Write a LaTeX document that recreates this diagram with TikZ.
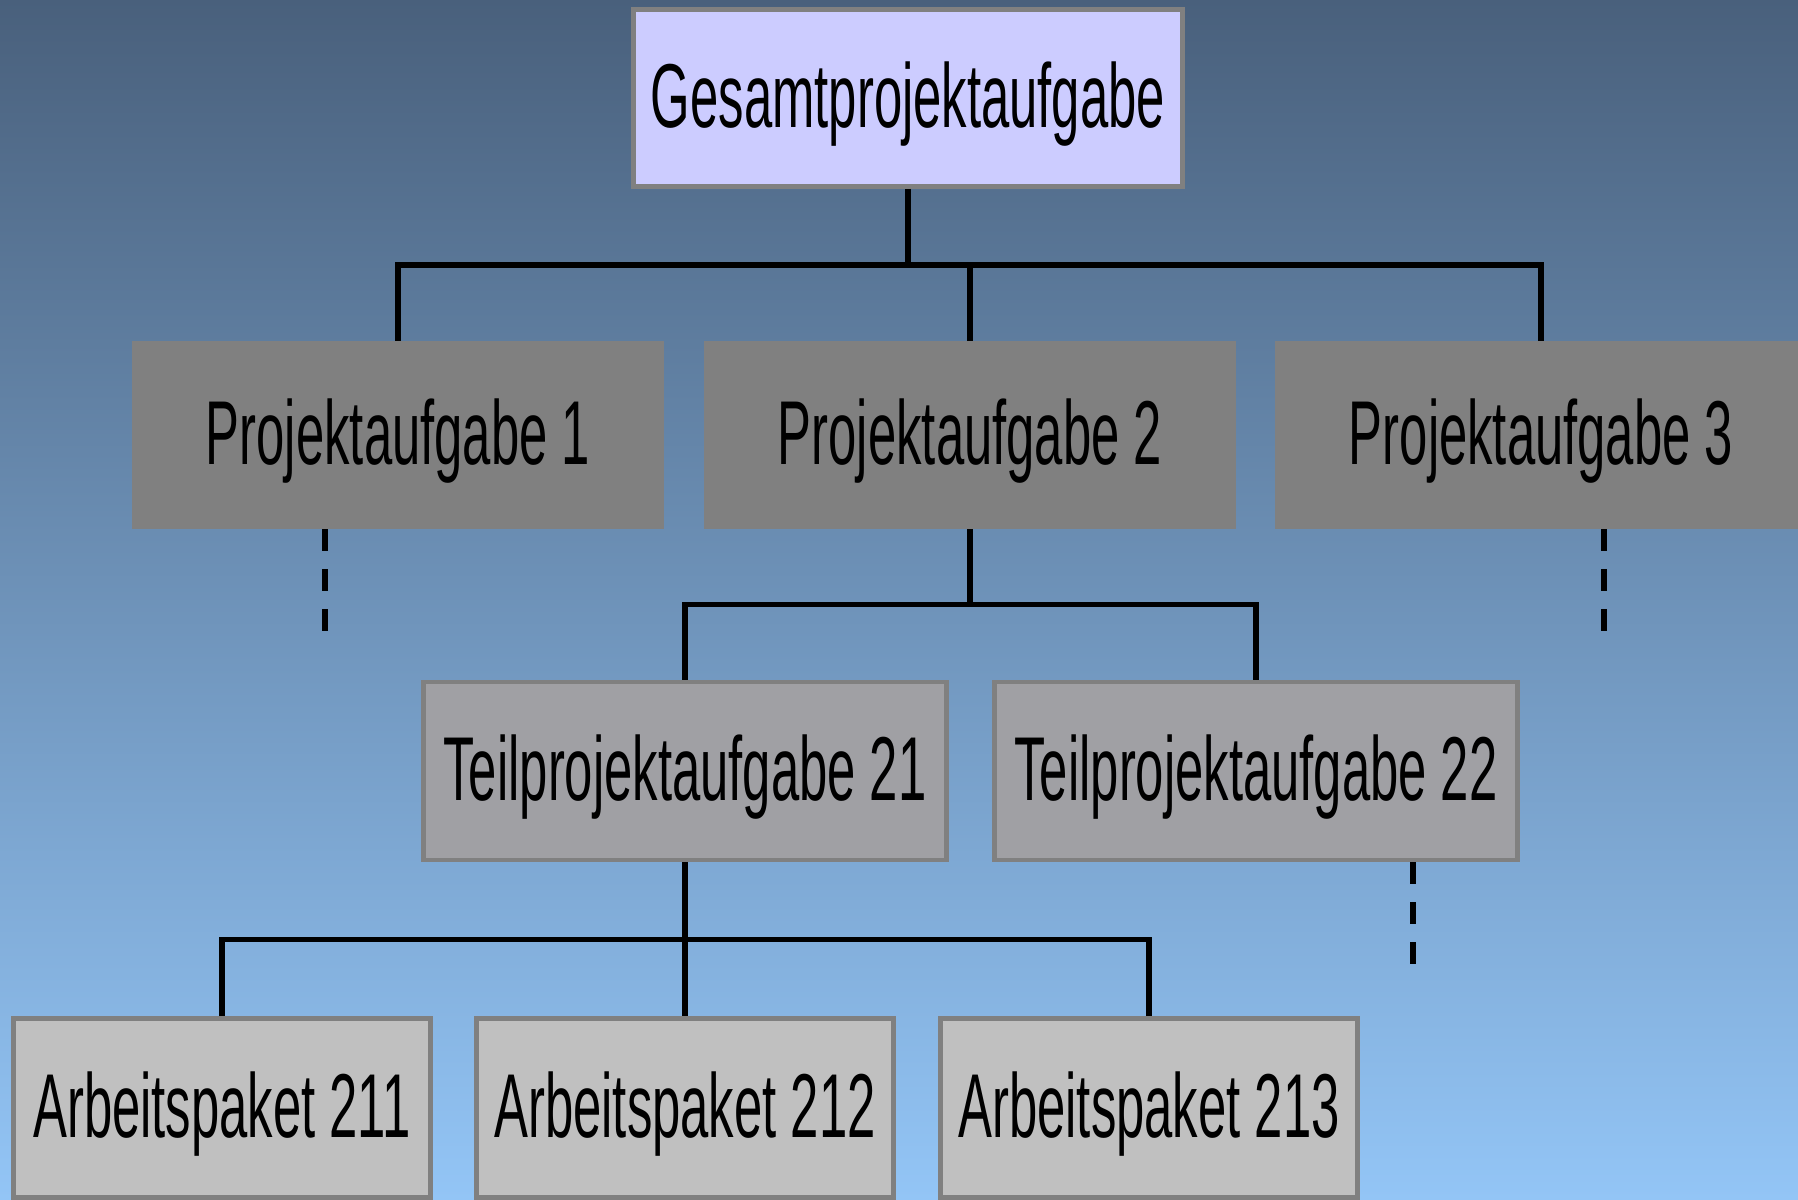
\documentclass[tikz,border=0pt]{standalone}
\usepackage{fontspec}
\setmainfont{Liberation Sans}[FakeStretch=0.56]
\usetikzlibrary{calc}
\definecolor{bgtop}{RGB}{73, 96, 124}
\definecolor{bgmid}{RGB}{114, 154, 200}
\definecolor{bgbot}{RGB}{147, 197, 246}
\definecolor{lila}{RGB}{204, 204, 255}
\definecolor{rahmen}{RGB}{128, 128, 128}
\definecolor{grauA}{RGB}{128, 128, 128}
\definecolor{grauB}{RGB}{160, 160, 164}
\definecolor{grauC}{RGB}{192, 192, 192}

\begin{document}
\begin{tikzpicture}[x=0.01cm, y=-0.01cm,
  box/.style={fill=#1, inner sep=0pt, text height=0.66cm, text depth=0.08cm,
    font=\fontsize{25.8}{30}\selectfont},
  rbox/.style={box=#1, draw=rahmen, line width=0.045cm},
  ln/.style={line width=0.055cm},
  dsh/.style={line width=0.065cm, dash pattern=on 0.22cm off 0.18cm},
]
  % Background
  \shade[top color=bgtop, middle color=bgmid, bottom color=bgbot] (0,0) rectangle (1798,1199);
  \useasboundingbox (0,0) rectangle (1798,1199);
  % Nodes
  \node[rbox=lila, minimum width=5.49cm, minimum height=1.77cm] (gpa) at (908,98) {Gesamtprojektaufgabe};
  \node[box=grauA, minimum width=5.31cm, minimum height=1.87cm] (p1) at (398,435) {Projektaufgabe 1};
  \node[box=grauA, minimum width=5.31cm, minimum height=1.87cm] (p2) at (970,435) {Projektaufgabe 2};
  \node[box=grauA, minimum width=5.31cm, minimum height=1.87cm] (p3) at (1541,435) {Projektaufgabe 3};
  \node[rbox=grauB, minimum width=5.23cm, minimum height=1.78cm] (t21) at (685,771) {Teilprojektaufgabe 21};
  \node[rbox=grauB, minimum width=5.23cm, minimum height=1.78cm] (t22) at (1256,771) {Teilprojektaufgabe 22};
  \node[rbox=grauC, minimum width=4.17cm, minimum height=1.79cm] (a211) at (222,1108) {Arbeitspaket 211};
  \node[rbox=grauC, minimum width=4.17cm, minimum height=1.79cm] (a212) at (685,1108) {Arbeitspaket 212};
  \node[rbox=grauC, minimum width=4.17cm, minimum height=1.79cm] (a213) at (1149,1108) {Arbeitspaket 213};
  % Bars
  \coordinate (bar1) at ($(gpa.south)!.5!(p1.north)$);
  \coordinate (bar2) at ($(p2.south)!.5!(t21.north)$);
  \coordinate (bar3) at ($(t21.south)!.5!(a211.north)$);
  % Edges
  \draw[ln] (gpa.south) -- (gpa.south |- bar1);
  \draw[ln] (p1.north) |- (bar1) -| (p3.north);
  \draw[ln] (p2.north) -- (p2.north |- bar1);
  \draw[ln] (p2.south) -- (p2.south |- bar2);
  \draw[ln] (t21.north) |- (bar2) -| (t22.north);
  \draw[ln] (t21.south) -- (a212.north);
  \draw[ln] (a211.north) |- (bar3) -| (a213.north);
  % Open ends
  \coordinate (d1) at (325,631);
  \coordinate (d3) at (1604,631);
  \coordinate (d22) at (1413,967);
  \draw[dsh] (d1 |- p1.south) -- (d1);
  \draw[dsh] (d3 |- p3.south) -- (d3);
  \draw[dsh] (d22 |- t22.south) -- (d22);
\end{tikzpicture}
\end{document}
